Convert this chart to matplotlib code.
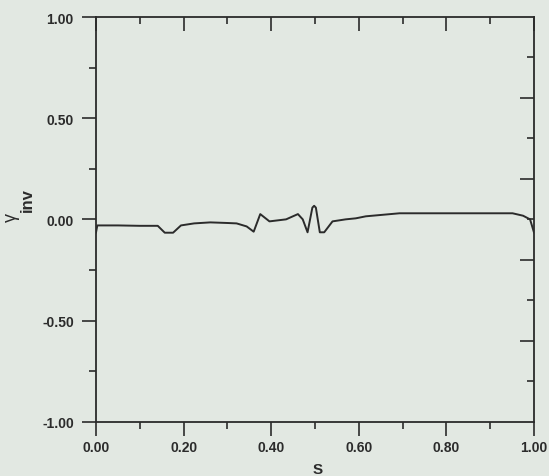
import matplotlib
matplotlib.use("Agg")
import matplotlib.pyplot as plt
from matplotlib.ticker import MultipleLocator, FixedLocator, NullFormatter

# Profile of gamma_inv along the normalised coordinate S
s_vals = [0.000, 0.003, 0.050, 0.100, 0.141, 0.157, 0.176, 0.194, 0.224, 0.261,
          0.300, 0.321, 0.344, 0.360, 0.375, 0.396, 0.434, 0.461, 0.472, 0.483,
          0.494, 0.498, 0.502, 0.511, 0.521, 0.540, 0.570, 0.593, 0.616, 0.693,
          0.849, 0.873, 0.951, 0.975, 0.991, 1.000]
gamma_inv = [-0.065, -0.030, -0.030, -0.032, -0.032, -0.066, -0.066, -0.030, -0.020, -0.015,
             -0.018, -0.020, -0.035, -0.061, 0.026, -0.010, 0.000, 0.026, 0.000, -0.064,
             0.058, 0.067, 0.058, -0.064, -0.064, -0.010, 0.000, 0.005, 0.015, 0.030,
             0.030, 0.030, 0.030, 0.018, 0.000, -0.065]

x_ticks = [0.0, 0.2, 0.4, 0.6, 0.8, 1.0]
x_tick_labels = ["0.00", "0.20", "0.40", "0.60", "0.80", "1.00"]
y_ticks = [-1.0, -0.5, 0.0, 0.5, 1.0]
y_tick_labels = ["-1.00", "-0.50", "0.00", "0.50", "1.00"]

bg = "#e2e8e2"
ink = "#2b2b2b"

plt.rcParams["font.family"] = ["Liberation Sans", "DejaVu Sans"]

W, H = 549, 477
fig = plt.figure(figsize=(W / 100, H / 100), dpi=100, facecolor=bg)
left, right, top, bottom = 96, 534, 18, 422.7
ax = fig.add_axes([left / W, 1 - bottom / H, (right - left) / W, (bottom - top) / H])
ax.set_facecolor(bg)

ax.plot(s_vals, gamma_inv, color=ink, lw=1.4)

ax.set_xlim(0, 1)
ax.set_ylim(-1, 1)

for sp in ax.spines.values():
    sp.set_color(ink)
    sp.set_linewidth(1.3)

# bottom / left: outward ticks with labels
ax.set_xticks(x_ticks)
ax.set_xticklabels(x_tick_labels)
ax.xaxis.set_minor_locator(MultipleLocator(0.1))
ax.set_yticks(y_ticks)
ax.set_yticklabels(y_tick_labels)
ax.yaxis.set_minor_locator(MultipleLocator(0.25))
ax.tick_params(axis="both", which="major", direction="out", length=10, width=1.2,
               color=ink, labelsize=10, labelcolor=ink)
ax.tick_params(axis="both", which="minor", direction="out", length=5, width=1.2, color=ink)
ax.tick_params(axis="x", which="major", pad=3)
ax.tick_params(axis="y", which="major", pad=6)
for lab in ax.get_xticklabels() + ax.get_yticklabels():
    lab.set_fontweight("bold")

# top: inward ticks, no labels
top_ax = ax.secondary_xaxis("top")
top_ax.xaxis.set_major_locator(MultipleLocator(0.2))
top_ax.xaxis.set_minor_locator(MultipleLocator(0.1))
top_ax.xaxis.set_major_formatter(NullFormatter())
top_ax.tick_params(which="major", direction="in", length=10, width=1.2, color=ink)
top_ax.tick_params(which="minor", direction="in", length=5, width=1.2, color=ink)
top_ax.spines["top"].set_visible(False)

# right: inward ticks, no labels
right_ax = ax.secondary_yaxis("right")
right_ax.yaxis.set_major_locator(FixedLocator([-0.6, -0.2, 0.2, 0.6]))
right_ax.yaxis.set_minor_locator(FixedLocator([-0.8, -0.4, 0.0, 0.4, 0.8]))
right_ax.yaxis.set_major_formatter(NullFormatter())
right_ax.tick_params(which="major", direction="in", length=10, width=1.2, color=ink)
right_ax.tick_params(which="minor", direction="in", length=5, width=1.2, color=ink)
right_ax.spines["right"].set_visible(False)

# axis titles
fig.text(318 / W, 1 - 470 / H, "S", ha="center", va="center", fontsize=11,
         fontweight="bold", color=ink)
fig.text(11 / W, 1 - 218 / H, "γ", ha="center", va="center", rotation=90,
         fontsize=13, color=ink)
fig.text(27 / W, 1 - 200 / H, "inv", ha="center", va="center", rotation=90,
         fontsize=12, fontweight="bold", color=ink)

fig.savefig("out.png", dpi=100, facecolor=bg)
